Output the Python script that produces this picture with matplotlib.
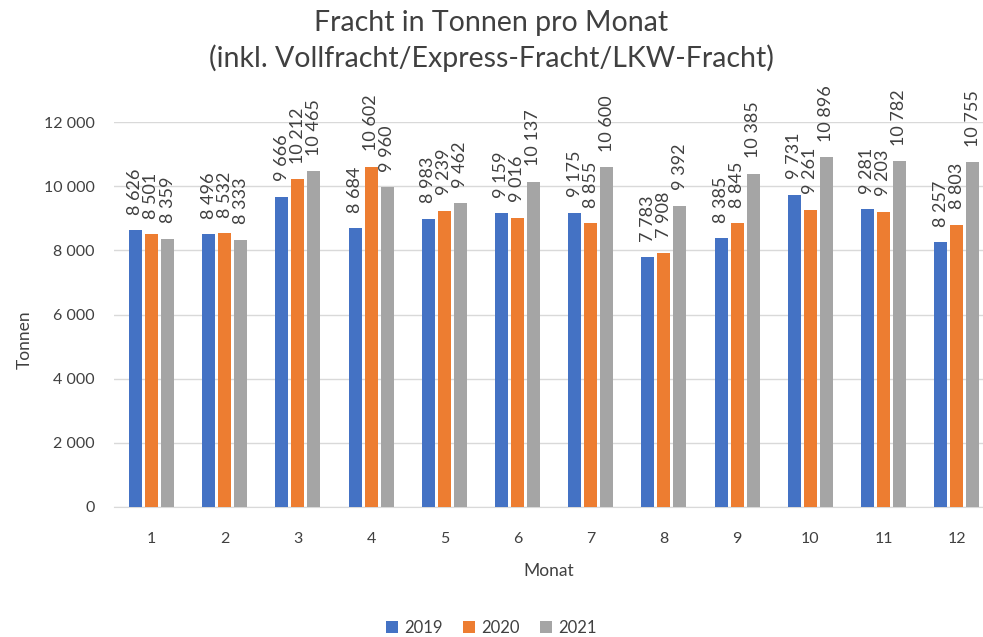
import numpy as np
import matplotlib.pyplot as plt

plt.rcParams['font.family'] = ['Lato', 'DejaVu Sans']

monate = np.arange(1, 13)
jahre = ["2019", "2020", "2021"]
w2019 = [8626, 8496, 9666, 8684, 8983, 9159, 9175, 7783, 8385, 9731, 9281, 8257]
w2020 = [8501, 8532, 10212, 10602, 9239, 9016, 8855, 7908, 8845, 9261, 9203, 8803]
w2021 = [8359, 8333, 10465, 9960, 9462, 10137, 10600, 9392, 10385, 10896, 10782, 10755]
farben = ["#4472C4", "#ED7D31", "#A5A5A5"]

def fmt(v):
    return f"{v:,}".replace(",", " ")

fig = plt.figure(figsize=(9.83, 6.37), dpi=100)
ax = fig.add_axes([114 / 983, 130 / 637, (983 - 114) / 983, (507 - 122) / 637])

breite = 0.178
abstand = 0.219
for i, (werte, farbe, jahr) in enumerate(zip([w2019, w2020, w2021], farben, jahre)):
    x = monate + (i - 1) * abstand
    ax.bar(x, werte, width=breite, color=farbe, label=jahr, zorder=3)
    for xi, v in zip(x, werte):
        ax.text(xi, v + 480, fmt(v), rotation=90, ha="center", va="bottom",
                fontsize=13, color="#404040", clip_on=False)

ax.set_xlim(0.488, 12.36)
ax.set_ylim(0, 12000)
ax.set_yticks(np.arange(0, 12001, 2000))
ax.set_yticklabels([fmt(v) for v in range(0, 12001, 2000)])
ax.set_xticks(monate)
ax.grid(axis="y", color="#D9D9D9", linewidth=1, zorder=0)
for s in ["top", "right", "left"]:
    ax.spines[s].set_visible(False)
ax.spines["bottom"].set_color("#D9D9D9")
ax.tick_params(length=0, labelsize=11.5, colors="#404040")
ax.tick_params(axis="x", pad=18)
ax.tick_params(axis="y", pad=14)

ax.set_xlabel("Monat", fontsize=12.5, color="#404040", labelpad=12)
fig.text(25 / 983, 1 - 340 / 637, "Tonnen", rotation=90, ha="center", va="center",
         fontsize=12.5, color="#404040")

fig.text(0.5, 1 - 41 / 637, "Fracht in Tonnen pro Monat\n(inkl. Vollfracht/Express-Fracht/LKW-Fracht)",
         ha="center", va="center", fontsize=20.5, color="#404040", linespacing=1.35)

fig.legend(loc="center", bbox_to_anchor=(0.5, 1 - 628 / 637), ncol=3, frameon=False,
           fontsize=12, handlelength=0.7, handleheight=0.7, columnspacing=1.2,
           handletextpad=0.4, labelcolor="#404040")

fig.savefig("out.png", dpi=100, facecolor="white")
